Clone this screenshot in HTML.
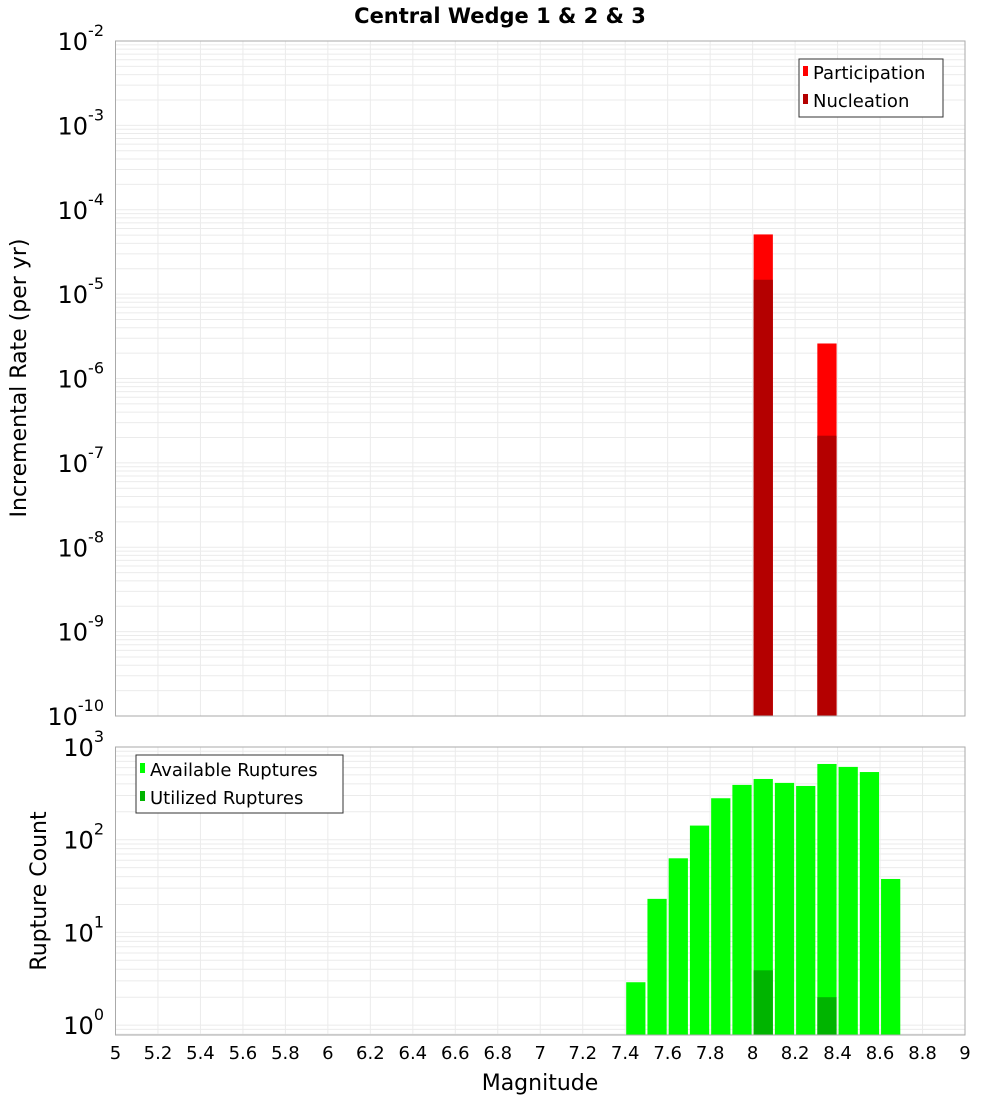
<!DOCTYPE html>
<html><head><meta charset="utf-8"><style>
body{margin:0;background:#fff}
svg{display:block;font-family:"DejaVu Sans","Liberation Sans",sans-serif}
</style></head><body>
<svg id="c" width="1000" height="1100" xmlns="http://www.w3.org/2000/svg">
<text x="500" y="23" text-anchor="middle" font-size="21" font-weight="bold">Central Wedge 1 &amp; 2 &amp; 3</text>
<g id="topPanel"></g>
<g id="botPanel"></g>
<text transform="translate(26,378) rotate(-90)" text-anchor="middle" font-size="22">Incremental Rate (per yr)</text>
<text transform="translate(46,891) rotate(-90)" text-anchor="middle" font-size="22">Rupture Count</text>
<text x="540" y="1090" text-anchor="middle" font-size="22">Magnitude</text>
</svg>
<script>
const xTicks=["5","5.2","5.4","5.6","5.8","6","6.2","6.4","6.6","6.8","7","7.2","7.4","7.6","7.8","8","8.2","8.4","8.6","8.8","9"];
const rateMags=[8.05,8.35];
const participation=[5.1e-5,2.6e-6];
const nucleation=[1.48e-5,2.1e-7];
const countMags=[7.45,7.55,7.65,7.75,7.85,7.95,8.05,8.15,8.25,8.35,8.45,8.55,8.65];
const available=[2.9,23,63,142,280,390,452,410,380,656,610,537,37.7];
const utilizedMags=[8.05,8.35];
const utilized=[3.9,2.0];
const rateExps=[-2,-3,-4,-5,-6,-7,-8,-9,-10];
const countExps=[3,2,1,0];

const NS="http://www.w3.org/2000/svg";
const PL=115.5,PR=965;
const X=m=>PL+(m-5)/4*(PR-PL);
function mk(p,t,a){const e=document.createElementNS(NS,t);for(const k in a)e.setAttribute(k,a[k]);p.appendChild(e);return e;}
const tY=v=>41+(-2-Math.log10(v))*(716-41)/8;
const bY=v=>747+(3-Math.log10(v))*92.7;

function panel(g,y0,y1,yf,lo,hi){
  mk(g,'rect',{x:PL,y:y0,width:PR-PL,height:y1-y0,fill:'#fff'});
  for(let d=lo;d<hi;d++)for(let k=1;k<10;k++){const y=yf(k*Math.pow(10,d));if(y>=y0-0.5&&y<=y1){const l=mk(g,'line',{x1:PL,x2:PR,y1:y,y2:y,stroke:'#ebebeb','stroke-width':1});}}
  xTicks.forEach(t=>{const x=X(+t);const l=mk(g,'line',{x1:x,x2:x,y1:y0,y2:y1,stroke:'#ebebeb','stroke-width':1});});
}
function frame(g,y0,y1){const r=mk(g,'rect',{x:PL,y:y0,width:PR-PL,height:y1-y0,fill:'none',stroke:'#aaa','stroke-width':1});}
function ylab(g,e,y){const t=mk(g,'text',{x:104,y:y+9,'text-anchor':'end','font-size':24});t.textContent='10';const s=mk(t,'tspan',{dy:-14,'font-size':16});s.textContent=String(e);}
function bar(g,m,v,yf,yb,fill,name){const x=X(m-0.05)+1,w=X(m+0.05)-X(m-0.05)-2;const y=yf(v);const r=mk(g,'rect',{x:x,y:y,width:w,height:yb-y,fill:fill});return r;}

const topG=document.getElementById('topPanel');
panel(topG,41,716,tY,-10,-2);
rateMags.forEach((m,i)=>bar(topG,m,participation[i],tY,716,'#ff0000','participation-bar'));
rateMags.forEach((m,i)=>bar(topG,m,nucleation[i],tY,716,'#b40000','nucleation-bar'));
frame(topG,41,716);
rateExps.forEach(e=>ylab(topG,e,tY(Math.pow(10,e))));
const lg=mk(topG,'g',{});


mk(lg,'rect',{x:799,y:59,width:144,height:58,fill:'#fff',stroke:'#333'});
[['Participation','#ff0000',73],['Nucleation','#b40000',101]].forEach(([n,c,y])=>{mk(lg,'rect',{x:803,y:y-7,width:5,height:10,fill:c});const t=mk(lg,'text',{x:813,y:y+6,'font-size':18});t.textContent=n;});

const botG=document.getElementById('botPanel');
panel(botG,747,1035,bY,-1,3);
countMags.forEach((m,i)=>bar(botG,m,available[i],bY,1035,'#00ff00','available-bar'));
utilizedMags.forEach((m,i)=>bar(botG,m,utilized[i],bY,1035,'#00b400','utilized-bar'));
frame(botG,747,1035);
countExps.forEach(e=>ylab(botG,e,bY(Math.pow(10,e))));
const lg2=mk(botG,'g',{});


mk(lg2,'rect',{x:136,y:755,width:207,height:58,fill:'#fff',stroke:'#333'});
[['Available Ruptures','#00ff00',770],['Utilized Ruptures','#00b400',798]].forEach(([n,c,y])=>{mk(lg2,'rect',{x:140,y:y-7,width:5,height:10,fill:c});const t=mk(lg2,'text',{x:150,y:y+6,'font-size':18});t.textContent=n;});

xTicks.forEach(t=>{const e=mk(botG,'text',{x:X(+t),y:1059,'text-anchor':'middle','font-size':18});e.textContent=t;});
</script>
</body></html>
